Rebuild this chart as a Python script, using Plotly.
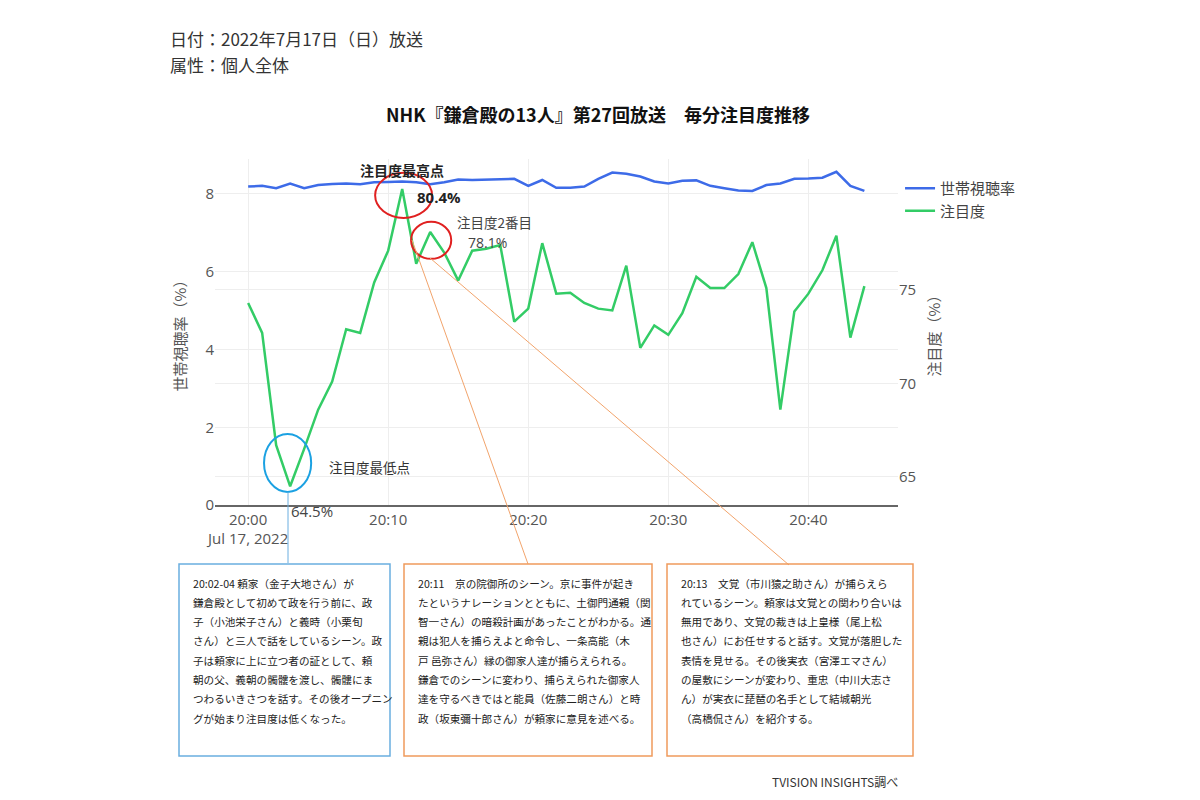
import pandas as pd
import plotly.graph_objects as go

# ---- data ----
minutes = pd.date_range('2022-07-17 20:00', periods=45, freq='min')

household_rating = [8.19, 8.21, 8.15, 8.27, 8.15, 8.23, 8.26, 8.27, 8.25, 8.30,
                    8.31, 8.32, 8.30, 8.25, 8.30, 8.37, 8.36, 8.37, 8.39, 8.39,
                    8.21, 8.36, 8.16, 8.16, 8.19, 8.39, 8.55, 8.52, 8.45, 8.32,
                    8.27, 8.34, 8.35, 8.21, 8.15, 8.09, 8.08, 8.23, 8.27, 8.39,
                    8.40, 8.42, 8.57, 8.21, 8.08]

attention = [74.3, 72.7, 66.7, 64.5, 66.5, 68.6, 70.1, 72.9, 72.7, 75.4,
             77.1, 80.4, 76.4, 78.1, 77.0, 75.5, 77.1, 77.2, 77.4, 73.3,
             74.0, 77.5, 74.8, 74.85, 74.3, 74.0, 73.9, 76.3, 71.9, 73.1,
             72.6, 73.75, 75.7, 75.1, 75.1, 75.85, 77.55, 75.1, 68.6, 73.85,
             74.8, 76.05, 77.9, 72.45, 75.2]

series_names = ['世帯視聴率', '注目度']
series_colours = ['#3d6be8', '#33cc66']

header_lines = ['日付：2022年7月17日（日）放送', '属性：個人全体']
chart_title = 'NHK『鎌倉殿の13人』第27回放送　毎分注目度推移'
footer = 'TVISION INSIGHTS調べ'

box_texts = [
    ['20:02-04 頼家（金子大地さん）が',
     '鎌倉殿として初めて政を行う前に、政',
     '子（小池栄子さん）と義時（小栗旬',
     'さん）と三人で話をしているシーン。政',
     '子は頼家に上に立つ者の証として、頼',
     '朝の父、義朝の髑髏を渡し、髑髏にま',
     'つわるいきさつを話す。その後オープニン',
     'グが始まり注目度は低くなった。'],
    ['20:11　京の院御所のシーン。京に事件が起き',
     'たというナレーションとともに、土御門通親（関',
     '智一さん）の暗殺計画があったことがわかる。通',
     '親は犯人を捕らえよと命令し、一条高能（木',
     '戸 邑弥さん）縁の御家人達が捕らえられる。',
     '鎌倉でのシーンに変わり、捕らえられた御家人',
     '達を守るべきではと能員（佐藤二朗さん）と時',
     '政（坂東彌十郎さん）が頼家に意見を述べる。'],
    ['20:13　文覚（市川猿之助さん）が捕らえら',
     'れているシーン。頼家は文覚との関わり合いは',
     '無用であり、文覚の裁きは上皇様（尾上松',
     '也さん）にお任せすると話す。文覚が落胆した',
     '表情を見せる。その後実衣（宮澤エマさん）',
     'の屋敷にシーンが変わり、重忠（中川大志さ',
     'ん）が実衣に琵琶の名手として結城朝光',
     '（高橋侃さん）を紹介する。'],
]

FONT = 'Noto Sans CJK JP, Open Sans, sans-serif'

# page has an 8px body margin, so the figure is a bit smaller than the window
OFF = 8
W, H = 1200 - 2 * OFF, 800 - 2 * OFF
# plot area in page pixels
L, R, T, B = 215, 898, 159, 505


def px(x):
    return (x - L) / (R - L)


def py(y):
    return (B - y) / (B - T)


fig = go.Figure()
fig.add_scatter(x=minutes, y=household_rating, name=series_names[0],
                mode='lines', line=dict(color=series_colours[0], width=2.5))
fig.add_scatter(x=minutes, y=attention, name=series_names[1], yaxis='y2',
                mode='lines', line=dict(color=series_colours[1], width=2.5))

fig.update_layout(
    width=W, height=H,
    margin=dict(l=L - OFF, r=W - (R - OFF), t=T - OFF, b=H - (B - OFF)),
    paper_bgcolor='white', plot_bgcolor='white',
    font=dict(family=FONT, color='#555', size=14),
    title=dict(text='<b>' + chart_title + '</b>', x=(598 - OFF) / W, xref='container',
               xanchor='center', y=1 - (116 - OFF) / H, yanchor='middle',
               font=dict(size=18, color='#111')),
    legend=dict(x=1.003, xanchor='left', y=py(172), yanchor='top',
                bgcolor='rgba(255,255,255,1)', font=dict(size=15, color='#444')),
    xaxis=dict(range=['2022-07-17 19:57:38', '2022-07-17 20:46:24'],
               tick0='2022-07-17 20:00', dtick=600000,
               showgrid=True, gridcolor='#eeeeee', showline=True,
               linecolor='#666', linewidth=1.5, zeroline=False,
               tickfont=dict(family='Open Sans', size=15, color='#555')),
    yaxis=dict(range=[0, 8.9], dtick=2, showgrid=True, gridcolor='#eeeeee',
               zeroline=False, title=dict(text='世帯視聴率（%）', font=dict(size=15, color='#555')),
               tickfont=dict(family='Open Sans', size=15, color='#555')),
    yaxis2=dict(range=[63.5, 82.0], tickvals=[65, 70, 75], overlaying='y', side='right',
                showgrid=True, gridcolor='#eeeeee', zeroline=False,
                title=dict(text='注目度（%）', font=dict(size=15, color='#555'), standoff=14),
                tickfont=dict(family='Open Sans', size=15, color='#555')),
)

# ---- texts ----
annots = []
for i, line in enumerate(header_lines):
    annots.append(dict(text=line, x=px(168), y=py(38 + 27 * i), xref='paper', yref='paper',
                       xanchor='left', yanchor='middle', showarrow=False,
                       font=dict(size=17, color='#333')))
annots += [
    dict(text='<b>注目度最高点</b>', x=px(402), y=py(170), font=dict(size=14, color='#222'), xanchor='center'),
    dict(text='<b>80.4%</b>', x=px(415), y=py(197), font=dict(family='Open Sans', size=15, color='#222'), xanchor='left'),
    dict(text='注目度2番目', x=px(455), y=py(222), font=dict(size=13.5, color='#444'), xanchor='left'),
    dict(text='78.1%', x=px(466), y=py(242), font=dict(family='Open Sans', size=14, color='#444'), xanchor='left'),
    dict(text='注目度最低点', x=px(327), y=py(467), font=dict(size=13.5, color='#333'), xanchor='left'),
    dict(text='64.5%', x=px(289), y=py(511), font=dict(family='Open Sans', size=15, color='#444'), xanchor='left'),
    dict(text=footer, x=px(770), y=py(781), font=dict(size=12, color='#333'), xanchor='left'),
]
for a in annots[len(header_lines):]:
    a.update(xref='paper', yref='paper', yanchor='middle', showarrow=False)

box_left = [179, 404, 667]
box_right = [390, 652, 913]
box_colours = ['#6aaee0', '#ef9b5c', '#ef9b5c']
for k, lines in enumerate(box_texts):
    for j, line in enumerate(lines):
        annots.append(dict(text=line, x=px(box_left[k] + 12), y=py(583 + 19.3 * j),
                           xref='paper', yref='paper', xanchor='left', yanchor='middle',
                           showarrow=False, font=dict(size=10.6, color='#222')))
fig.update_layout(annotations=annots)

# ---- shapes: ellipses, leader lines, boxes ----
shapes = [
    dict(type='circle', xref='x', yref='y2', x0='2022-07-17 20:09:04', x1='2022-07-17 20:13:08',
         y0=78.85, y1=81.26, line=dict(color='#e02020', width=2)),
    dict(type='circle', xref='x', yref='y2', x0='2022-07-17 20:11:38', x1='2022-07-17 20:14:30',
         y0=76.66, y1=78.64, line=dict(color='#e02020', width=2)),
    dict(type='circle', xref='x', yref='y2', x0='2022-07-17 20:01:08', x1='2022-07-17 20:04:30',
         y0=64.2, y1=67.3, line=dict(color='#1ba1e2', width=2)),
    dict(type='line', xref='paper', yref='paper', x0=px(288), y0=py(492), x1=px(288), y1=py(563),
         line=dict(color='#6aaee0', width=1)),
    dict(type='line', xref='paper', yref='paper', x0=px(412), y0=py(240), x1=px(528), y1=py(564),
         line=dict(color='#f2a46c', width=1)),
    dict(type='line', xref='paper', yref='paper', x0=px(430), y0=py(258), x1=px(789), y1=py(565),
         line=dict(color='#f2a46c', width=1)),
]
for k in range(3):
    shapes.append(dict(type='rect', xref='paper', yref='paper',
                       x0=px(box_left[k]), x1=px(box_right[k]), y0=py(564), y1=py(756),
                       line=dict(color=box_colours[k], width=1.5), fillcolor='rgba(0,0,0,0)'))
fig.update_layout(shapes=shapes)

fig.write_html('out.html')
